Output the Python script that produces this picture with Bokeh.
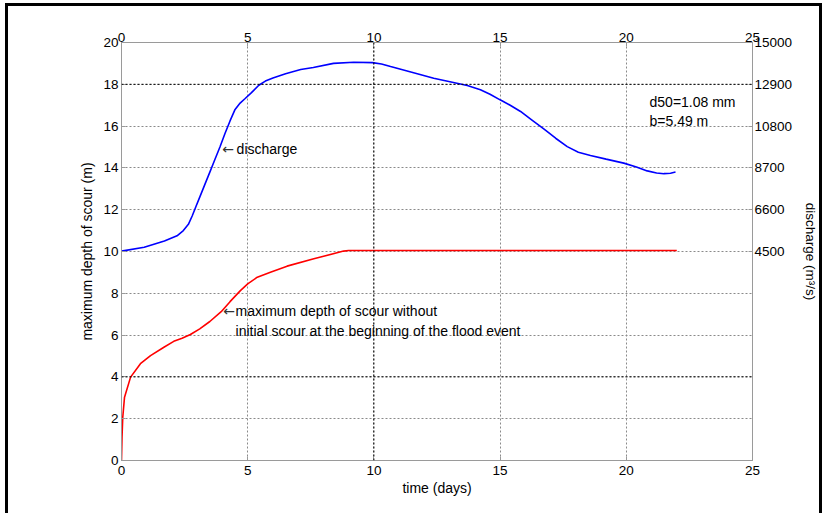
from bokeh.plotting import figure
from bokeh.models import Range1d, LinearAxis, FixedTicker, Span, Label
from bokeh.embed import file_html
from bokeh.resources import INLINE

# discharge hydrograph (days, m^3/s)
days_q = [0, 0.9, 1.7, 2.2, 2.45, 2.65, 2.8, 2.95, 3.1, 3.3, 3.5, 3.7, 3.9, 4.1, 4.3, 4.5, 4.7,
          4.9, 5.15, 5.44, 5.7, 6.0, 6.5, 7.1, 7.6, 8.4, 9.2, 9.94, 10.3, 10.66, 11.5, 12.37, 13.7,
          14.22, 14.6, 15.0, 15.4, 15.81, 16.25, 16.73, 17.2, 17.66, 18.1, 18.58, 19.2, 19.9,
          20.4, 20.83, 21.2, 21.49, 21.75, 21.95]
discharge_q = [4520, 4710, 5025, 5290, 5550, 5865, 6285, 6760, 7230, 7860, 8490, 9120, 9750,
               10430, 11060, 11640, 11955, 12185, 12480, 12850, 13060, 13215, 13430, 13640, 13740,
               13950, 14010, 13990, 13920, 13790, 13510, 13200, 12840, 12630, 12400, 12120, 11850,
               11535, 11115, 10660, 10190, 9770, 9490, 9320, 9140, 8940, 8750, 8550, 8440, 8410,
               8430, 8490]

# maximum depth of scour (days, m)
days_s = [0, 0.02, 0.05, 0.12, 0.36, 0.75, 1.15, 1.68, 2.07, 2.4, 2.73, 3.1, 3.5, 3.95, 4.3, 4.71,
          5.0, 5.38, 5.9, 6.56, 7.62, 8.8, 9.0, 22.0]
scour_s = [0.0, 1.1, 2.07, 3.03, 3.99, 4.63, 5.02, 5.42, 5.7, 5.85, 6.03, 6.3, 6.65, 7.12, 7.6,
           8.13, 8.45, 8.77, 9.01, 9.3, 9.65, 10.02, 10.05, 10.05]

x_ticks = [0, 5, 10, 15, 20, 25]
y_ticks = [0, 2, 4, 6, 8, 10, 12, 14, 16, 18, 20]
q_ticks = [4500, 6600, 8700, 10800, 12900, 15000]

FONT = "Liberation Sans"
AXC = "#9a9a9a"

p = figure(width=817, height=510, output_backend="svg", toolbar_location=None,
           x_range=Range1d(0, 25), y_range=Range1d(0, 20),
           min_border_left=113, min_border_right=73, min_border_top=36, min_border_bottom=56,
           background_fill_color="white", border_fill_color="white")
p.outline_line_color = AXC
p.styles = {"margin-left": "5px", "margin-top": "3px",
            "border-top": "3px solid black", "border-left": "3px solid black",
            "border-right": "3px solid black"}

p.extra_y_ranges = {"q": Range1d(-6000, 15000)}


def style_axis(ax, ticks):
    ax.ticker = FixedTicker(ticks=ticks)
    ax.axis_line_color = AXC
    ax.major_tick_line_color = AXC
    ax.major_tick_in = 4
    ax.major_tick_out = 0
    ax.minor_tick_line_color = None
    ax.major_label_text_font = FONT
    ax.major_label_text_font_size = "13.5px"
    ax.major_label_text_color = "black"
    ax.axis_label_text_font = FONT
    ax.axis_label_text_font_size = "14px"
    ax.axis_label_text_font_style = "normal"
    ax.axis_label_text_color = "black"


style_axis(p.xaxis[0], x_ticks)
style_axis(p.yaxis[0], y_ticks)
p.xaxis[0].axis_label = "time (days)"
p.xaxis[0].axis_label_standoff = 2
p.xaxis[0].major_label_standoff = 5
p.yaxis[0].axis_label = "maximum depth of scour (m)"
p.yaxis[0].axis_label_standoff = 5
p.yaxis[0].major_label_standoff = 3

top = LinearAxis()
style_axis(top, x_ticks)
top.major_label_standoff = 1
p.add_layout(top, "above")

right = LinearAxis(y_range_name="q", axis_label="discharge (m³/s)")
style_axis(right, q_ticks)
right.major_label_standoff = 2
right.axis_label_standoff = 8
right.axis_label_text_font_size = "13.5px"
p.add_layout(right, "right")

p.xgrid.ticker = FixedTicker(ticks=x_ticks)
p.ygrid.ticker = FixedTicker(ticks=y_ticks)
for g in (p.xgrid[0], p.ygrid[0]):
    g.grid_line_color = "#8a8a8a"
    g.grid_line_dash = "2 2"
    g.grid_line_width = 1

for loc, dim in ((18, "width"), (4, "width"), (10, "height")):
    p.add_layout(Span(location=loc, dimension=dim, line_color="black",
                      line_dash="2 2", line_width=1))

p.line(days_q, discharge_q, y_range_name="q", line_color="#0000ff", line_width=1.6)
p.line(days_s, scour_s, line_color="#ff0000", line_width=1.6)

arrows = [(3.99, 14.91), (4.03, 7.14)]
for x, y in arrows:
    p.add_layout(Label(x=x, y=y, text="←", text_font="DejaVu Sans", text_font_size="14px",
                       text_baseline="middle", text_align="left", text_color="#333333"))

labels = [
    (4.56, 14.91, "discharge"),
    (4.52, 7.14, "maximum depth of scour without"),
    (4.52, 6.22, "initial scour at the beginning of the flood event"),
    (20.92, 17.13, "d50=1.08 mm"),
    (20.92, 16.23, "b=5.49 m"),
]
for x, y, t in labels:
    p.add_layout(Label(x=x, y=y, text=t, text_font=FONT, text_font_size="14px",
                       text_baseline="middle", text_align="left", text_color="black"))

open("out.html", "w").write(file_html(p, INLINE))
